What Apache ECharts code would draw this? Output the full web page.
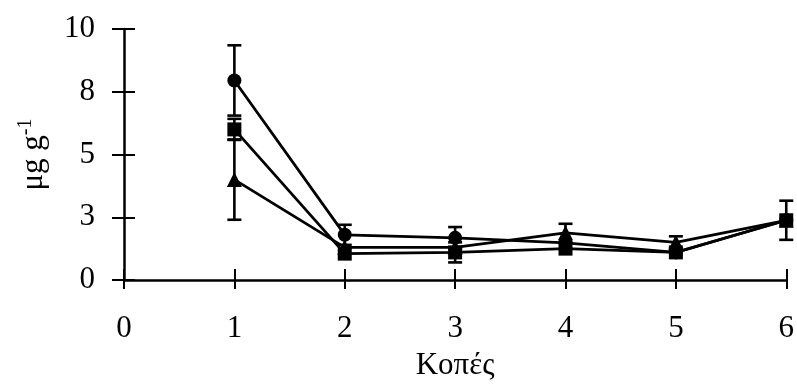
<!DOCTYPE html>
<html><head><meta charset="utf-8">
<script src="https://cdn.jsdelivr.net/npm/echarts@6/dist/echarts.min.js"></script>
<style>html,body{margin:0;padding:0;background:#fff}#c{width:797px;height:386px}</style>
</head><body><div id="c"></div>
<script>
const cuts = [1, 2, 3, 4, 5, 6];
const circleVals = [7.95, 1.8, 1.68, 1.48, 1.1, 2.38];
const circleErr = [1.4, 0.4, 0.43, 0, 0, 0];
const squareVals = [6.0, 1.05, 1.1, 1.25, 1.1, 2.38];
const squareErr = [0.42, 0, 0.4, 0, 0, 0.78];
const triangleVals = [4.0, 1.3, 1.3, 1.88, 1.5, 2.38];
const triangleErr = [1.6, 0, 0, 0.36, 0.24, 0];
const xTickLabels = ['0', '1', '2', '3', '4', '5', '6'];
const yTickValues = [0, 2.5, 5, 7.5, 10];
const yTickLabels = ['0', '3', '5', '8', '10'];
const xTitle = 'Κοπές';
const yTitleMain = 'μg g';
const yTitleSup = '-1';

const FONT = 'Liberation Serif';
const chart = echarts.init(document.getElementById('c'), null, {renderer: 'canvas'});

function lineSeries(vals, symbol, size) {
  return {
    type: 'line', xAxisIndex: 0, yAxisIndex: 0,
    data: cuts.map((x, i) => [x, vals[i]]),
    symbol: symbol, symbolSize: size, showSymbol: true,
    itemStyle: {color: '#000'},
    lineStyle: {color: '#000', width: 2.8},
    z: 4, animation: false
  };
}
function errSeries(vals, errs) {
  const data = [];
  cuts.forEach((x, i) => { if (errs[i] > 0) data.push([x, vals[i] - errs[i], vals[i] + errs[i]]); });
  return {
    type: 'custom', xAxisIndex: 0, yAxisIndex: 0,
    data: data, encode: {x: 0, y: [1, 2]}, z: 3, animation: false,
    renderItem: function (params, api) {
      const x = api.value(0);
      const lo = api.coord([x, api.value(1)]);
      const hi = api.coord([x, api.value(2)]);
      const w = 7;
      const st = {stroke: '#000', lineWidth: 2.6};
      return {type: 'group', children: [
        {type: 'line', shape: {x1: lo[0], y1: lo[1], x2: hi[0], y2: hi[1]}, style: st},
        {type: 'line', shape: {x1: lo[0] - w, y1: lo[1], x2: lo[0] + w, y2: lo[1]}, style: st},
        {type: 'line', shape: {x1: hi[0] - w, y1: hi[1], x2: hi[0] + w, y2: hi[1]}, style: st}
      ]};
    }
  };
}

chart.setOption({
  animation: false,
  backgroundColor: '#fff',
  grid: {left: 124, right: 9, top: 29, bottom: 105},
  xAxis: [{
    type: 'value', min: 0, max: 6, interval: 1, position: 'bottom',
    name: xTitle, nameLocation: 'middle', nameGap: 70,
    nameTextStyle: {fontFamily: FONT, fontSize: 31, color: '#000'},
    axisLine: {show: true, onZero: false, lineStyle: {color: '#000', width: 2.5}},
    axisTick: {show: true, length: 9, lineStyle: {color: '#000', width: 2}},
    axisLabel: {margin: 33, fontFamily: FONT, fontSize: 31, color: '#000',
      formatter: v => xTickLabels[Math.round(v)]},
    splitLine: {show: false}
  }, {
    type: 'value', min: 0, max: 6, interval: 1, position: 'bottom',
    axisLine: {show: false},
    axisTick: {show: true, inside: true, length: 11, lineStyle: {color: '#000', width: 2}},
    axisLabel: {show: false}, splitLine: {show: false}
  }],
  yAxis: [{
    type: 'value', min: 0, max: 10, interval: 2.5, position: 'left',
    name: '{a|' + yTitleMain + '}{s|' + yTitleSup + '}',
    nameLocation: 'middle', nameGap: 72, nameRotate: 90,
    nameTextStyle: {
      color: '#000',
      rich: {
        a: {fontFamily: FONT, fontSize: 31, color: '#000'},
        s: {fontFamily: FONT, fontSize: 20, color: '#000', padding: [0, 0, 16, 0]}
      }
    },
    axisLine: {show: true, onZero: false, lineStyle: {color: '#000', width: 2.5}},
    axisTick: {show: true, length: 12, lineStyle: {color: '#000', width: 2}},
    axisLabel: {margin: 29, fontFamily: FONT, fontSize: 31, color: '#000',
      formatter: v => { const k = yTickValues.indexOf(v); return k >= 0 ? yTickLabels[k] : ''; }},
    splitLine: {show: false}
  }, {
    type: 'value', min: 0, max: 10, interval: 2.5, position: 'left',
    axisLine: {show: false},
    axisTick: {show: true, inside: true, length: 11, lineStyle: {color: '#000', width: 2}},
    axisLabel: {show: false}, splitLine: {show: false}
  }],
  series: [
    errSeries(circleVals, circleErr),
    errSeries(squareVals, squareErr),
    errSeries(triangleVals, triangleErr),
    lineSeries(circleVals, 'circle', 14),
    lineSeries(squareVals, 'rect', 14),
    lineSeries(triangleVals, 'triangle', 15)
  ]
});
</script>
</body></html>
